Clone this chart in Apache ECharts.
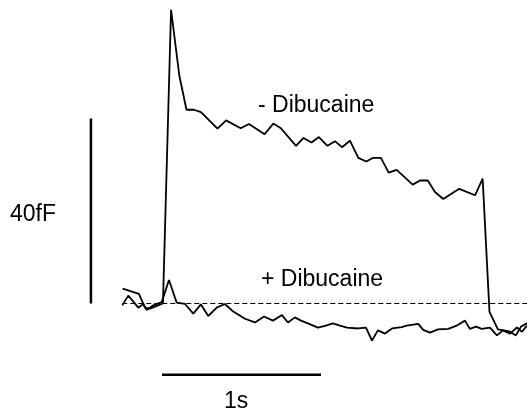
<!DOCTYPE html>
<html>
<head>
<meta charset="utf-8">
<script src="https://cdn.jsdelivr.net/npm/echarts@6/dist/echarts.min.js"></script>
<style>
html,body{margin:0;padding:0;background:#fff;}
#chart{width:527px;height:413px;}
</style>
</head>
<body>
<div id="chart"></div>
<script>
// time in ms, capacitance change in fF
var minusTime = [-248,-145,-107,-75,-25,6,57,109,154,201,245,349,403,495,547,645,700,748,843,890,940,987,1041,1088,1132,1182,1235,1285,1329,1377,1426,1476,1577,1623,1672,1717,1769,1870,1969,2017,2060,2113,2151,2189,2226,2258,2296];
var minusCap = [3.2,2.1,-0.9,-1.1,-0.4,0,63.5,49.3,41.9,41.9,41.4,37.8,39.6,37.9,38.8,36.6,38.9,37.9,34.1,35.8,34.8,36.0,34.1,35.1,33.8,35.2,31.5,30.7,31.5,31.5,28.3,28.9,25.7,26.6,26.6,24.1,22.6,24.8,23.4,27.0,-1.8,-5.6,-5.8,-6.1,-6.9,-5.0,-4.3];

var plusTime = [-250,-212,-149,-118,-96,-55,-2,44,92,145,197,245,291,344,396,443,522,585,642,698,755,792,836,874,918,981,1031,1075,1119,1164,1233,1283,1321,1358,1403,1447,1508,1539,1612,1643,1686,1736,1801,1853,1906,1937,1975,2011,2063,2107,2145,2189,2233,2264,2296];
var plusCap = [-0.4,1.7,-0.9,-0.1,-1.4,-0.4,0.3,5.1,0.2,-0.1,-2.2,-0.2,-2.7,-0.9,-0.1,-1.6,-3.3,-4.1,-2.8,-3.7,-2.5,-4.1,-3.0,-3.7,-4.3,-5.2,-4.8,-4.3,-4.8,-5.2,-5.4,-5.2,-8.0,-5.8,-6.5,-5.4,-5.1,-4.8,-4.4,-5.7,-6.3,-5.6,-5.5,-4.8,-3.7,-5.5,-5.0,-5.5,-5.2,-6.9,-5.8,-6.5,-5.2,-6.1,-4.8];

var baselineTime = [-250, 2296];
var baselineCap = [0, 0];

// scale bars: 40 fF and 1 s
var capBarTime = [-447, -447];
var capBarCap = [0, 40];
var timeBarTime = [0, 1000];
var timeBarCap = [-15.4, -15.4];

function pairs(xs, ys) {
	var out = [];
	for (var i = 0; i < xs.length; i++) out.push([xs[i], ys[i]]);
	return out;
}

var myChart = echarts.init(document.getElementById('chart'));
var font = '"Liberation Sans", Arial, sans-serif';
var option = {
	animation: false,
	backgroundColor: '#fff',
	grid: { left: 0, right: 0, top: 2.9, bottom: 17.0 },
	xAxis: { type: 'value', min: -1019, max: 2296, show: false },
	yAxis: { type: 'value', min: -20, max: 65, show: false },
	graphic: [
		{ type: 'text', left: 258, top: 94, style: { text: '- Dibucaine', font: '23px ' + font, fill: '#000' } },
		{ type: 'text', left: 261, top: 268, style: { text: '+ Dibucaine', font: '23px ' + font, fill: '#000' } },
		{ type: 'text', left: 10, top: 203, style: { text: '40fF', font: '23px ' + font, fill: '#000' } },
		{ type: 'text', left: 224, top: 390, style: { text: '1s', font: '23px ' + font, fill: '#000' } }
	],
	series: [
		{
			name: 'baseline', type: 'line', data: pairs(baselineTime, baselineCap),
			showSymbol: false, lineStyle: { color: '#000', width: 1, type: [5, 3] }
		},
		{
			name: '- Dibucaine', type: 'line', data: pairs(minusTime, minusCap),
			showSymbol: false, lineStyle: { color: '#000', width: 1.8 }
		},
		{
			name: '+ Dibucaine', type: 'line', data: pairs(plusTime, plusCap),
			showSymbol: false, lineStyle: { color: '#000', width: 1.8 }
		},
		{
			name: '40fF', type: 'line', data: pairs(capBarTime, capBarCap),
			showSymbol: false, lineStyle: { color: '#000', width: 2.5 }
		},
		{
			name: '1s', type: 'line', data: pairs(timeBarTime, timeBarCap),
			showSymbol: false, lineStyle: { color: '#000', width: 2.5 }
		}
	]
};
myChart.setOption(option);
</script>
</body>
</html>
